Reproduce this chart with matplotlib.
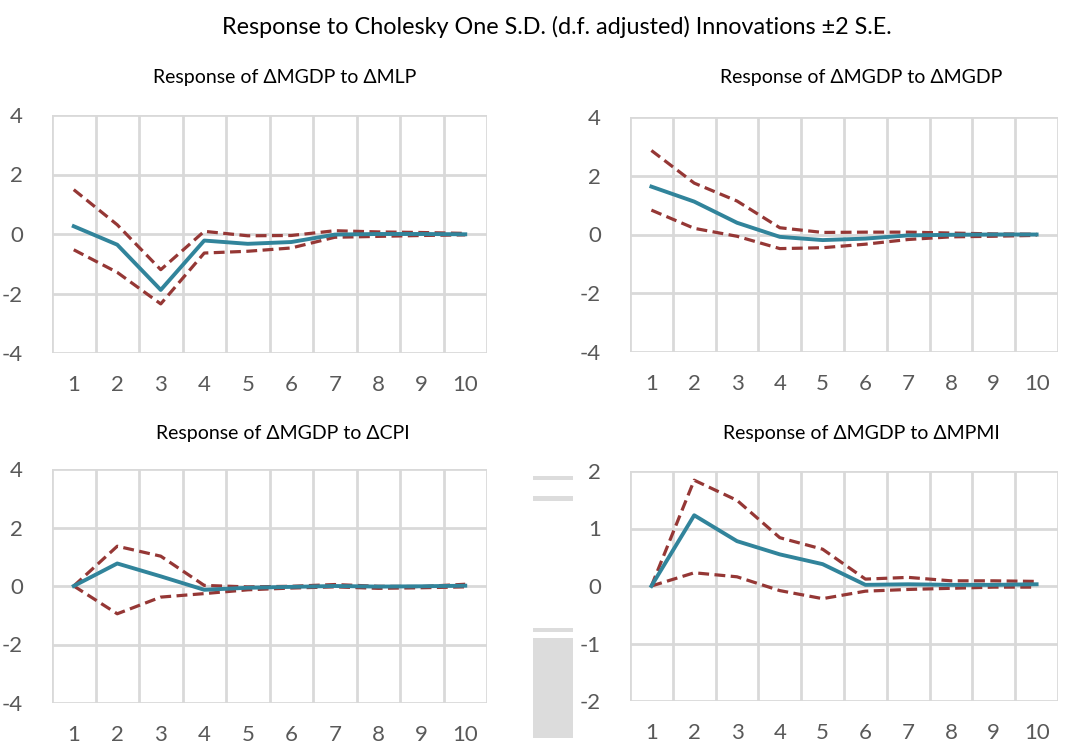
import matplotlib
matplotlib.use("Agg")
import matplotlib.pyplot as plt
from matplotlib.patches import Rectangle

plt.rcParams['font.family'] = ['Lato', 'DejaVu Sans']
plt.rcParams['axes.unicode_minus'] = False

# data
periods = list(range(1, 11))

mlp_resp = [0.26, -0.36, -1.88, -0.22, -0.33, -0.27, -0.02, 0.0, 0.0, -0.01]
mlp_upper = [1.49, 0.31, -1.20, 0.09, -0.06, -0.05, 0.11, 0.07, 0.05, 0.02]
mlp_lower = [-0.53, -1.29, -2.35, -0.64, -0.58, -0.47, -0.11, -0.08, -0.05, -0.03]

mgdp_resp = [1.63, 1.12, 0.40, -0.08, -0.19, -0.14, -0.03, -0.01, 0.0, 0.0]
mgdp_upper = [2.86, 1.75, 1.14, 0.23, 0.07, 0.08, 0.08, 0.05, 0.02, 0.01]
mgdp_lower = [0.83, 0.21, -0.06, -0.48, -0.45, -0.33, -0.17, -0.08, -0.06, -0.03]

cpi_resp = [0.0, 0.77, 0.33, -0.13, -0.06, -0.03, 0.0, -0.02, -0.01, 0.01]
cpi_upper = [0.0, 1.36, 1.02, 0.02, -0.03, -0.01, 0.05, -0.01, -0.02, 0.06]
cpi_lower = [0.0, -0.95, -0.38, -0.26, -0.13, -0.07, -0.03, -0.08, -0.06, -0.03]

mpmi_resp = [0.0, 1.23, 0.78, 0.55, 0.38, 0.02, 0.03, 0.02, 0.02, 0.03]
mpmi_upper = [0.0, 1.84, 1.49, 0.84, 0.64, 0.12, 0.15, 0.09, 0.09, 0.08]
mpmi_lower = [0.0, 0.23, 0.16, -0.08, -0.22, -0.09, -0.06, -0.04, -0.02, -0.02]

titles = ['Response of ΔMGDP to ΔMLP', 'Response of ΔMGDP to ΔMGDP',
          'Response of ΔMGDP to ΔCPI', 'Response of ΔMGDP to ΔMPMI']

W, H = 1071, 742
BLUE = '#31849b'
RED = '#953735'
GRID = '#d9d9d9'
TXT = '#595959'

fig = plt.figure(figsize=(W / 100, H / 100), dpi=100)


def px_axes(left, right, top, bottom):
    return fig.add_axes([left / W, 1 - bottom / H, (right - left) / W, (bottom - top) / H])


def panel(ax, resp, upper, lower, yticks):
    ax.set_xlim(0.5, 10.5)
    ax.set_ylim(yticks[0], yticks[-1])
    for x in [i + 0.5 for i in range(0, 11)]:
        ax.axvline(x, color=GRID, lw=2.0, zorder=0)
    for y in yticks:
        ax.axhline(y, color=GRID, lw=2.0, zorder=0)
    ax.plot(periods, upper, color=RED, lw=2.3, dashes=(3.4, 1.7), zorder=2)
    ax.plot(periods, lower, color=RED, lw=2.3, dashes=(3.4, 1.7), zorder=2)
    ax.plot(periods, resp, color=BLUE, lw=2.8, zorder=3)
    ax.set_xticks(periods)
    ax.set_yticks(yticks)
    ax.tick_params(length=0, labelsize=16, labelcolor=TXT)
    ax.tick_params(axis='y', pad=21)
    ax.tick_params(axis='x', pad=16)
    for s in ax.spines.values():
        s.set_visible(False)
    ax.patch.set_alpha(0)


ax1 = px_axes(52, 487, 115, 353)
panel(ax1, mlp_resp, mlp_upper, mlp_lower, [-4, -2, 0, 2, 4])
ax2 = px_axes(630, 1058, 117, 352)
panel(ax2, mgdp_resp, mgdp_upper, mgdp_lower, [-4, -2, 0, 2, 4])
ax3 = px_axes(52, 487, 469, 703)
panel(ax3, cpi_resp, cpi_upper, cpi_lower, [-4, -2, 0, 2, 4])
ax4 = px_axes(630, 1058, 471, 701)
panel(ax4, mpmi_resp, mpmi_upper, mpmi_lower, [-2, -1, 0, 1, 2])

# titles
fig.text(557 / W, 1 - 27 / H, 'Response to Cholesky One S.D. (d.f. adjusted) Innovations ±2 S.E.',
         ha='center', va='center', fontsize=16.8, color='black')
fig.text(285 / W, 1 - 78 / H, titles[0], ha='center', va='center', fontsize=14, color='black')
fig.text(861 / W, 1 - 78 / H, titles[1], ha='center', va='center', fontsize=14, color='black')
fig.text(283 / W, 1 - 434 / H, titles[2], ha='center', va='center', fontsize=14, color='black')
fig.text(861 / W, 1 - 434 / H, titles[3], ha='center', va='center', fontsize=14, color='black')

# grey scan artefact between the lower panels
for (x0, y0, w, h) in [(533, 476, 40, 4), (533, 496, 40, 5), (533, 628, 40, 4), (533, 638, 40, 100)]:
    fig.add_artist(Rectangle((x0 / W, 1 - (y0 + h) / H), w / W, h / H,
                             transform=fig.transFigure, color='#dcdcdc', lw=0))

fig.savefig('out.png', dpi=100, facecolor='white')
